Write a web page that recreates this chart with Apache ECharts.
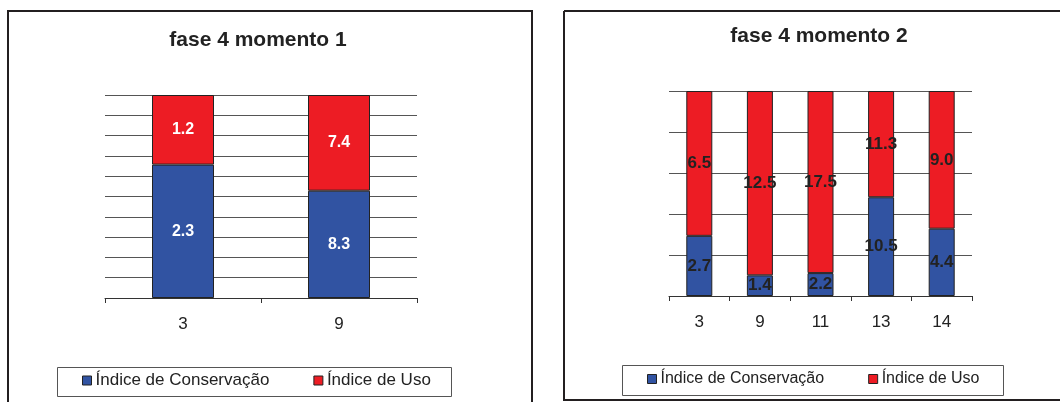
<!DOCTYPE html>
<html>
<head>
<meta charset="utf-8">
<style>
  html, body { margin: 0; padding: 0; background: #fff; }
  #chart { width: 1060px; height: 402px; }
</style>
<script src="https://cdn.jsdelivr.net/npm/echarts@6/dist/echarts.min.js"></script>
</head>
<body>
<div id="chart"></div>
<script>
// Phase 4, moment 1
const categories1 = ['3', '9'];
const conservacao1 = [2.3, 8.3];
const uso1 = [1.2, 7.4];

// Phase 4, moment 2
const categories2 = ['3', '9', '11', '13', '14'];
const conservacao2 = [2.7, 1.4, 2.2, 10.5, 4.4];
const uso2 = [6.5, 12.5, 17.5, 11.3, 9.0];

const titles = ['fase 4 momento 1', 'fase 4 momento 2'];
const seriesNames = ['Índice de Conservação', 'Índice de Uso'];

const BLUE = '#3153a2';
const RED = '#ed1c24';
const FONT = '"Liberation Sans", Arial, sans-serif';

// Each column is shown as a 100% stack: share of each index in the column total.
function shares(part, a, b) {
  return part.map((v, i) => (v / (a[i] + b[i])) * 100);
}

function stackSeries(name, raw, a, b, color, axisIndex, labelStyle, barWidth) {
  return {
    name: name,
    type: 'bar',
    stack: 'total' + axisIndex,
    xAxisIndex: axisIndex,
    yAxisIndex: axisIndex,
    barWidth: barWidth,
    data: shares(raw, a, b),
    itemStyle: { color: color, borderColor: '#222', borderWidth: 1 },
    label: Object.assign({
      show: true,
      position: 'inside',
      fontFamily: FONT,
      fontWeight: 'bold',
      formatter: p => raw[p.dataIndex].toFixed(1)
    }, labelStyle),
    emphasis: { disabled: true }
  };
}

const xAxisCommon = {
  type: 'category',
  axisLine: { lineStyle: { color: '#333', width: 1 } },
  axisTick: { show: true, length: 5, alignWithLabel: false, lineStyle: { color: '#333' } },
  axisLabel: { color: '#222', fontFamily: FONT, fontSize: 17, margin: 18 }
};
const yAxisCommon = {
  type: 'value',
  min: 0,
  max: 100,
  axisLine: { show: false },
  axisTick: { show: false },
  axisLabel: { show: false },
  splitLine: { lineStyle: { color: '#555', width: 1 } }
};

function legendAt(left, top, fontSize) {
  return {
    left: left,
    top: top,
    data: seriesNames,
    icon: 'rect',
    itemWidth: 9,
    itemHeight: 9,
    itemGap: 44,
    padding: 0,
    selectedMode: false,
    itemStyle: { borderColor: '#222', borderWidth: 1 },
    textStyle: { color: '#222', fontFamily: FONT, fontSize: fontSize, padding: [0, 0, 0, -1] }
  };
}

const chart = echarts.init(document.getElementById('chart'), null, { renderer: 'canvas' });
chart.setOption({
  animation: false,
  backgroundColor: '#fff',
  title: [
    { text: titles[0], left: 253, top: 25, textAlign: 'center',
      textStyle: { fontFamily: FONT, fontSize: 21, fontWeight: 'bold', color: '#222' } },
    { text: titles[1], left: 814, top: 21, textAlign: 'center',
      textStyle: { fontFamily: FONT, fontSize: 21, fontWeight: 'bold', color: '#222' } }
  ],
  legend: [
    legendAt(82, 372, 17),
    legendAt(647, 371, 16)
  ],
  grid: [
    { left: 105, right: 643, top: 95, bottom: 104 },
    { left: 669, right: 88, top: 91, bottom: 106 }
  ],
  xAxis: [
    Object.assign({ gridIndex: 0, data: categories1 }, xAxisCommon),
    Object.assign({ gridIndex: 1, data: categories2 }, xAxisCommon)
  ],
  yAxis: [
    Object.assign({ gridIndex: 0, interval: 10 }, yAxisCommon),
    Object.assign({ gridIndex: 1, interval: 20 }, yAxisCommon)
  ],
  series: [
    stackSeries(seriesNames[0], conservacao1, conservacao1, uso1, BLUE, 0,
      { color: '#fff', fontSize: 16 }, 62),
    stackSeries(seriesNames[1], uso1, conservacao1, uso1, RED, 0,
      { color: '#fff', fontSize: 16 }, 62),
    stackSeries(seriesNames[0], conservacao2, conservacao2, uso2, BLUE, 1,
      { color: '#222', fontSize: 17 }, 26),
    stackSeries(seriesNames[1], uso2, conservacao2, uso2, RED, 1,
      { color: '#222', fontSize: 17 }, 26)
  ],
  graphic: [
    // panel frames
    { type: 'polyline', silent: true, z: 100,
      shape: { points: [[8, 410], [8, 11], [532, 11], [532, 410]] },
      style: { stroke: '#231f20', lineWidth: 2, fill: null } },
    { type: 'polyline', silent: true, z: 100,
      shape: { points: [[564, 11], [564, 400], [1070, 400]] },
      style: { stroke: '#231f20', lineWidth: 2, fill: null } },
    { type: 'line', silent: true, z: 100,
      shape: { x1: 564, y1: 11, x2: 1070, y2: 11 },
      style: { stroke: '#231f20', lineWidth: 2 } },
    // legend frames
    { type: 'rect', silent: true, z: 1,
      shape: { x: 57.5, y: 367.5, width: 394, height: 29 },
      style: { fill: '#fff', stroke: '#555', lineWidth: 1 } },
    { type: 'rect', silent: true, z: 1,
      shape: { x: 622.5, y: 365.5, width: 381, height: 30 },
      style: { fill: '#fff', stroke: '#555', lineWidth: 1 } }
  ]
});
</script>
</body>
</html>
